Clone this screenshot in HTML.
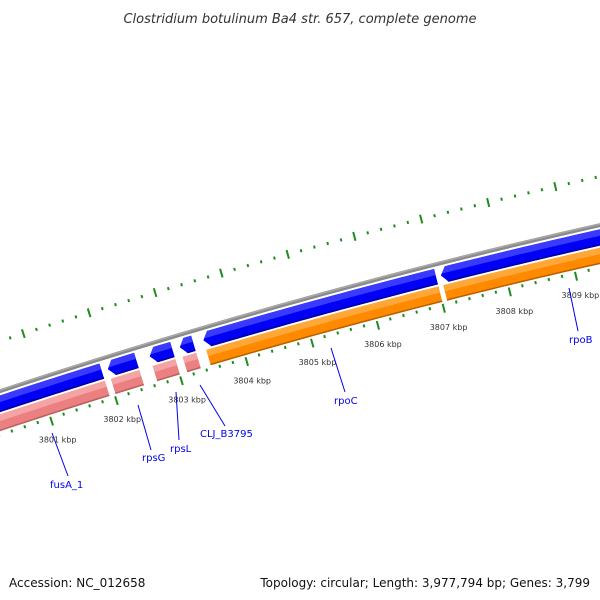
<!DOCTYPE html>
<html><head><meta charset="utf-8"><style>
html,body{margin:0;padding:0;background:#fff;width:600px;height:600px;overflow:hidden}
svg text{font-family:"DejaVu Sans","Liberation Sans",sans-serif}
</style></head><body>
<svg id="map" width="600" height="600" viewBox="0 0 600 600" xmlns="http://www.w3.org/2000/svg">
<rect width="600" height="600" fill="#fff"/>
<text x="300" y="23" text-anchor="middle" font-size="13" font-style="italic" fill="#333">Clostridium botulinum Ba4 str. 657, complete genome</text>
<g id="g-ticks"></g>
<g id="g-back"></g>
<g id="g-feat"></g>
<g id="g-lab"></g>
<text x="9" y="587" font-size="12" fill="#111">Accession: NC_012658</text>
<text x="590" y="587" text-anchor="end" font-size="12" fill="#111">Topology: circular; Length: 3,977,794 bp; Genes: 3,799</text>
</svg>
<script>
const geneNames = ['fusA_1','rpsG','rpsL','CLJ_B3795','rpoC','rpoB'];
const geneStarts = [3798500, 3801990, 3802630, 3803090, 3803450, 3807050];
const geneEnds = [3801950, 3802480, 3803030, 3803350, 3807030, 3811500];
const geneCog = ['pink','pink','pink','pink','orange','orange'];
const tickKbp = [3801,3802,3803,3804,3805,3806,3807,3808,3809];
const tickLabels = ['3801 kbp','3802 kbp','3803 kbp','3804 kbp','3805 kbp','3806 kbp','3807 kbp','3808 kbp','3809 kbp'];

const NS='http://www.w3.org/2000/svg';
const cx=2005, cy=6469;
function ang(bp){return (-107.90+(bp/1000-3801)*0.6133)*Math.PI/180;}
function pt(r,bp){const a=ang(bp);return [cx+r*Math.cos(a),cy+r*Math.sin(a)];}
function mk(tag,attrs,parent){const e=document.createElementNS(NS,tag);for(const k in attrs)e.setAttribute(k,attrs[k]);parent.appendChild(e);return e;}
function arcPts(r,b0,b1){const n=40,o=[];for(let i=0;i<=n;i++){o.push(pt(r,b0+(b1-b0)*i/n));}return o;}
function poly(p){return p.map(q=>q[0].toFixed(2)+','+q[1].toFixed(2)).join(' ');}

const gt=document.getElementById('g-ticks');
for(let bp=3799000;bp<=3811000;bp+=200){
  const big=(bp%1000===0);
  let a=pt(big?6443:6446,bp),b=pt(big?6452:6449,bp);
  let l=mk('line',{x1:a[0],y1:a[1],x2:b[0],y2:b[1],stroke:'#1e8c1e','stroke-width':2},gt);
  
  
  a=pt(6360,bp);b=pt(big?6351:6357,bp);
  l=mk('line',{x1:a[0],y1:a[1],x2:b[0],y2:b[1],stroke:'#1e8c1e','stroke-width':2},gt);
  
  
}
tickKbp.forEach((k,i)=>{
  const p=pt(6336,k*1000);
  const t=mk('text',{x:p[0],y:p[1]+3,'text-anchor':'middle','font-size':'8',fill:'#333'},gt);
  t.textContent=tickLabels[i];
  
  
});

const gb=document.getElementById('g-back');
const bb=mk('polyline',{points:poly(arcPts(6400,3798000,3812000)),fill:'none',stroke:'#8a8a8a','stroke-width':4},gb);


mk('polyline',{points:poly(arcPts(6401,3798000,3812000)),fill:'none',stroke:'#a8a8a8','stroke-width':1.5},gb);

const gf=document.getElementById('g-feat');
const defs=mk('defs',{},document.getElementById('map'));
const cols={blue:['#0000f4','#3a3aff','#0000a0'],pink:['#ec8080','#f4a4a4','#b86060'],orange:['#ff8a00','#ffa838','#b86000']};
function shape(id,outline,r0,r1,b0,b1,c,name){
  const cp=mk('clipPath',{id:id},defs);
  mk('polygon',{points:poly(outline)},cp);
  const g=mk('g',{'clip-path':'url(#'+id+')'},gf);
  
  
  mk('polygon',{points:poly(outline),fill:c[0]},g);
  const w=r1-r0;
  const band=arcPts(r1+1,b0,b1).concat(arcPts(r1-w*0.4,b1,b0));
  mk('polygon',{points:poly(band),fill:c[1]},g);
  const dk=arcPts(r0+1.5,b0,b1).concat(arcPts(r0-1,b1,b0));
  mk('polygon',{points:poly(dk),fill:c[2]},g);
}
const gapBp=25;
geneNames.forEach((n,i)=>{
  const s=geneStarts[i]+gapBp,e=geneEnds[i]-gapBp;
  const r0=6380,r1=6396,head=90;
  const out=[pt((r0+r1)/2,s)].concat(arcPts(r1,s+head,e)).concat(arcPts(r0,e,s+head));
  shape('cb'+i,out,r0,r1,s,e,cols.blue,'cds-'+n);
  const q0=6362,q1=6378;
  const box=arcPts(q1,s,e).concat(arcPts(q0,e,s));
  shape('cc'+i,box,q0,q1,s,e,cols[geneCog[i]],'cog-'+n);
});

const gl=document.getElementById('g-lab');
const lab=[[52,433,68,476,50,488],[138,405,151,450,142,461],[176,392,179,440,170,452],[200,385,225,426,200,437],[331,348,345,392,334,404],[569,288,578,331,569,343]];
geneNames.forEach((n,i)=>{
  const L=lab[i];
  const ln=mk('line',{x1:L[0],y1:L[1],x2:L[2],y2:L[3],stroke:'#0000ee','stroke-width':1},gl);
  
  
  const t=mk('text',{x:L[4],y:L[5],'font-size':'10',fill:'#0000ee'},gl);
  t.textContent=n;
  
  
});
</script>
</body></html>
